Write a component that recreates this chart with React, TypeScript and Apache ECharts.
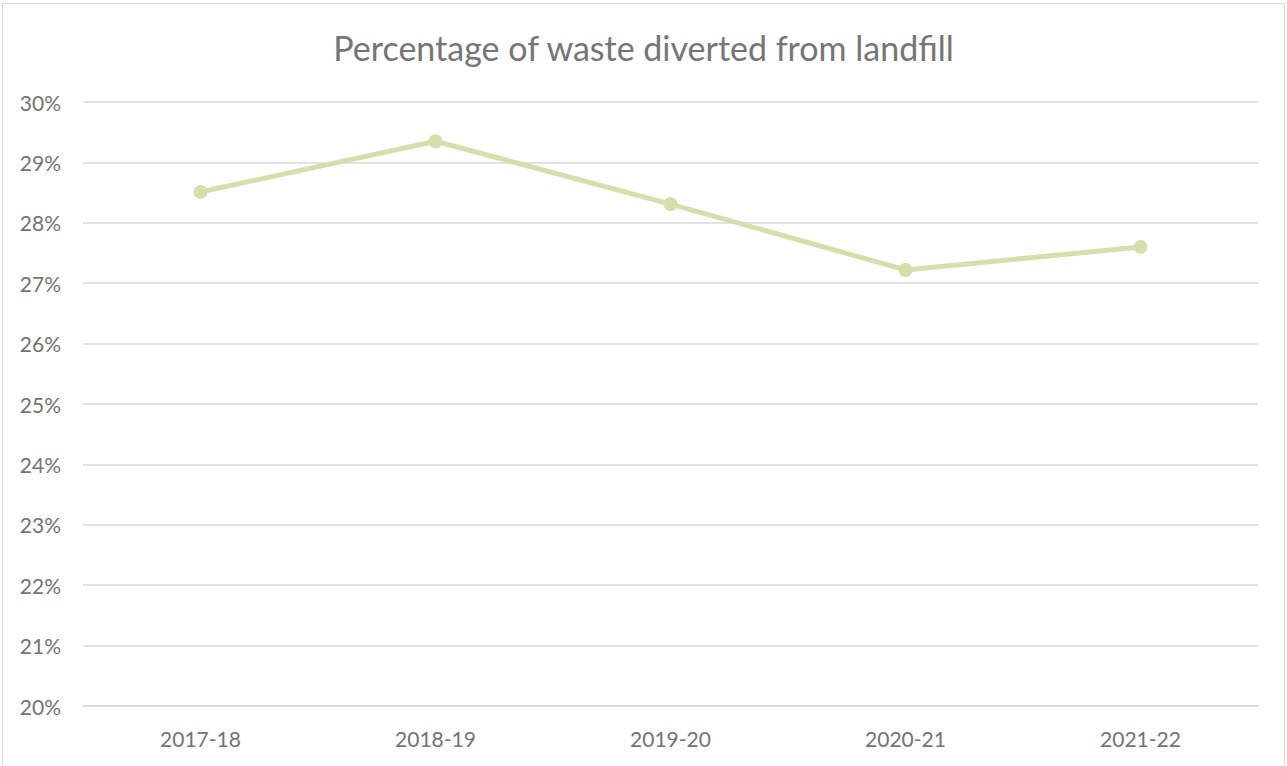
import React, { useEffect, useRef } from "react";
import * as echarts from "echarts";

const categories = ["2017-18", "2018-19", "2019-20", "2020-21", "2021-22"];
const values = [28.51, 29.35, 28.31, 27.22, 27.6];
const yTicks = { min: 20, max: 30, interval: 1 };
const titleText = "Percentage of waste diverted from landfill";

export default function App() {
  const ref = useRef<HTMLDivElement>(null);
  useEffect(() => {
    const chart = echarts.init(ref.current!, null, { renderer: "svg" });
    const font = "Lato, 'Open Sans', sans-serif";
    chart.setOption({
      animation: false,
      backgroundColor: "#ffffff",
      title: {
        text: titleText,
        left: "center",
        top: 25,
        textStyle: { fontFamily: font, fontSize: 34, fontWeight: "normal", color: "#757575" },
      },
      graphic: [
        {
          type: "rect",
          shape: { x: 2.5, y: 3.5, width: 1282, height: 800 },
          style: { fill: "none", stroke: "#d9d9d9", lineWidth: 1 },
          silent: true,
        },
      ],
      grid: { left: 83, right: 29, top: 102, bottom: 60, containLabel: false },
      xAxis: {
        type: "category",
        data: categories,
        boundaryGap: true,
        axisLine: { show: true, lineStyle: { color: "#d9d9d9", width: 1.5 } },
        axisTick: { show: false },
        axisLabel: { fontFamily: font, fontSize: 21, color: "#737373", margin: 22 },
      },
      yAxis: {
        type: "value",
        min: yTicks.min,
        max: yTicks.max,
        interval: yTicks.interval,
        axisLine: { show: false },
        axisTick: { show: false },
        splitLine: { lineStyle: { color: "#d9d9d9", width: 1.5 } },
        axisLabel: {
          fontFamily: font,
          fontSize: 21,
          color: "#737373",
          margin: 22,
          formatter: (v: number) => `${v}%`,
        },
      },
      series: [
        {
          type: "line",
          data: values,
          symbol: "circle",
          symbolSize: 14,
          lineStyle: { color: "#d3e0ac", width: 5 },
          itemStyle: { color: "#d3e0ac" },
        },
      ],
    });
    return () => chart.dispose();
  }, []);
  return (
    <div
      ref={ref}
      style={{ position: "fixed", left: 0, top: 0, width: 1287, height: 766 }}
    />
  );
}
